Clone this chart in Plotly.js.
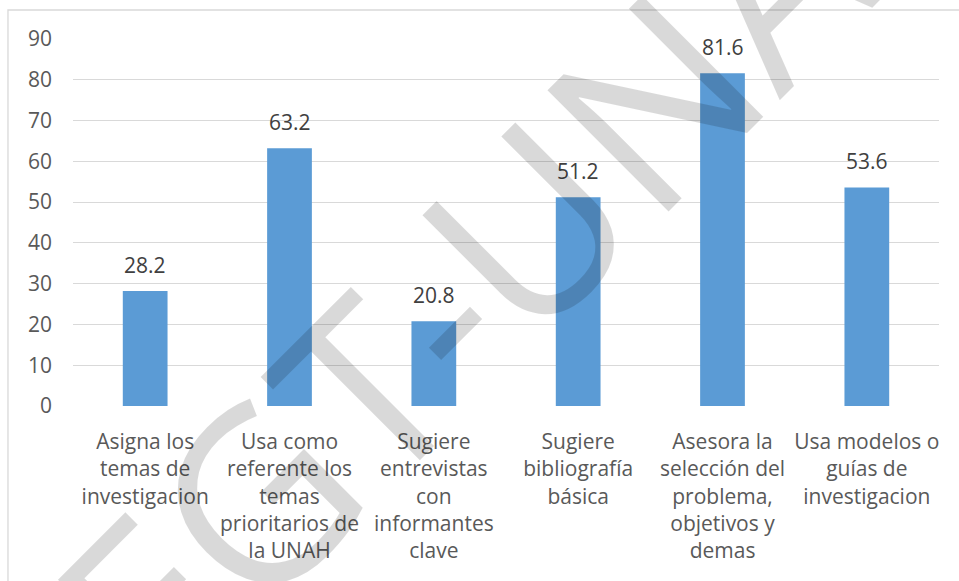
<!DOCTYPE html>
<html><head><meta charset="utf-8">
<script src="https://cdn.plot.ly/plotly-3.0.1.min.js"></script>
<style>html,body{margin:0;padding:0;background:#fff;} #chart{width:959px;height:581px;}</style>
</head><body><div id="chart"></div>
<script>
const categories = [
  "Asigna los<br>temas de<br>investigacion",
  "Usa como<br>referente los<br>temas<br>prioritarios de<br>la UNAH",
  "Sugiere<br>entrevistas<br>con<br>informantes<br>clave",
  "Sugiere<br>bibliografía<br>básica",
  "Asesora la<br>selección del<br>problema,<br>objetivos y<br>demas",
  "Usa modelos o<br>guías de<br>investigacion"
];
const values = [28.2, 63.2, 20.8, 51.2, 81.6, 53.6];
const valueLabels = ["28.2", "63.2", "20.8", "51.2", "81.6", "53.6"];
const yTicks = [0, 10, 20, 30, 40, 50, 60, 70, 80, 90];
const watermarkText = "EGT-UNAH";

const FONT = "Open Sans, Noto Sans, sans-serif";

const trace = {
  type: "bar",
  x: categories,
  y: values,
  marker: {color: "#5B9BD5"},
  hoverinfo: "none"
};

const labelAnns = categories.map((c, i) => ({
  x: c, y: values[i], xref: "x", yref: "y",
  text: valueLabels[i], showarrow: false,
  yanchor: "bottom", xanchor: "center", yshift: 10,
  font: {family: FONT, size: 21, color: "#404040"}
}));

const watermark = {
  xref: "paper", yref: "paper", x: (521 - 73) / 866, y: (406 - 226) / 367,
  xanchor: "center", yanchor: "middle",
  text: watermarkText, showarrow: false, textangle: -45,
  font: {family: FONT, size: 240, color: "rgba(0,0,0,0.15)"}
};

const layout = {
  width: 959, height: 581,
  margin: {l: 73, r: 20, t: 39, b: 175},
  paper_bgcolor: "#ffffff", plot_bgcolor: "#ffffff",
  showlegend: false,
  bargap: 0.69,
  font: {family: FONT, size: 21, color: "#595959"},
  xaxis: {
    type: "category", showgrid: false, showline: false, zeroline: false,
    ticks: "", tickfont: {family: FONT, size: 21, color: "#595959"},
    ticklabelstandoff: 21, automargin: false, fixedrange: true
  },
  yaxis: {
    range: [0, 90], tickvals: yTicks, ticktext: yTicks.map(String),
    showgrid: true, gridcolor: "#D9D9D9", gridwidth: 1,
    zeroline: false, showline: false, ticks: "",
    tickfont: {family: FONT, size: 21, color: "#595959"},
    ticklabelstandoff: 20, automargin: false, fixedrange: true
  },
  shapes: [{
    type: "rect", xref: "paper", yref: "paper", layer: "below",
    x0: -0.0751, x1: 1.2, y0: -1, y1: 1.079,
    line: {color: "#D9D9D9", width: 1.3}, fillcolor: "rgba(0,0,0,0)"
  }],
  annotations: labelAnns.concat([watermark])
};

Plotly.newPlot("chart", [trace], layout, {staticPlot: true, displayModeBar: false});
</script>
</body></html>
